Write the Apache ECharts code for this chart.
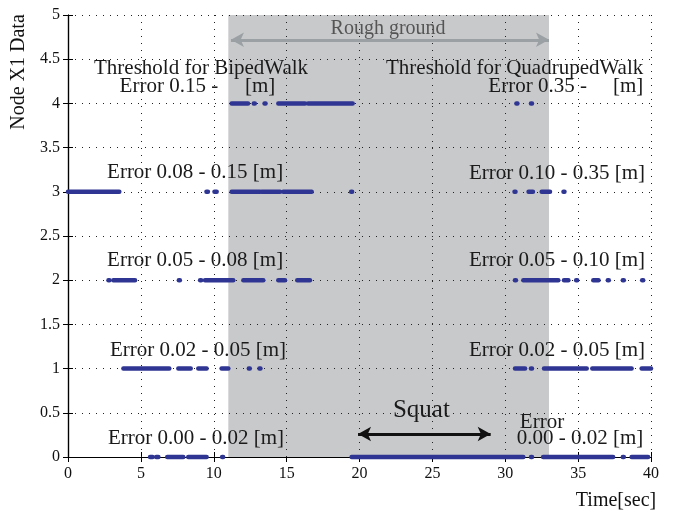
<!DOCTYPE html>
<html>
<head>
<meta charset="utf-8">
<script src="https://cdn.jsdelivr.net/npm/echarts@6/dist/echarts.min.js"></script>
<style>
  html, body { margin: 0; padding: 0; background: #fff; }
  #main { width: 674px; height: 512px; }
</style>
</head>
<body>
<div id="main"></div>
<script>
// runs of samples at each node value: [start, end] in seconds (start == end is a single dot)
const runsY0 = [[5.63, 5.8], [6.05, 6.2], [6.81, 7.91], [8.25, 9.51], [10.61, 10.61], [19.46, 31.24], [31.8, 31.8], [32.6, 37.4], [38.1, 38.1], [38.67, 39.8]];
const runsY1 = [[3.8, 6.95], [7.57, 8.42], [8.94, 9.51], [10.54, 11.0], [12.44, 12.44], [13.17, 13.17], [30.67, 31.36], [31.8, 31.8], [32.66, 35.59], [35.97, 38.67], [39.36, 40]];
const runsY2 = [[2.81, 2.81], [3.11, 4.6], [7.64, 7.64], [9.1, 9.1], [9.4, 11.34], [12.03, 13.4], [14.43, 14.89], [15.73, 16.6], [30.7, 30.7], [31.24, 33.64], [34.03, 34.33], [34.9, 34.9], [36.04, 36.4], [37.07, 37.07], [38.1, 38.1], [39.43, 39.43]];
const runsY3 = [[0, 3.52], [9.5, 9.6], [10.05, 10.2], [11.23, 13.17], [13.29, 14.55], [14.77, 16.72], [19.46, 19.46], [30.67, 30.67], [31.6, 31.9], [32.5, 33.07], [34.03, 34.03]];
const runsY4 = [[11.23, 12.35], [12.78, 12.78], [13.52, 13.52], [14.43, 16.26], [16.47, 19.53], [30.8, 30.8], [31.8, 31.8]];
const levels = [0, 1, 2, 3, 4];

const roughGround = [11, 33];
const squat = [19.9, 29.0];

const annotations = [
  { x: 9.13, y: 4.40, text: 'Threshold for BipedWalk', align: 'center' },
  { x: 10.3, y: 4.19, text: 'Error 0.15 -', align: 'right' },
  { x: 12.14, y: 4.19, text: '[m]', align: 'left' },
  { x: 39.47, y: 4.40, text: 'Threshold for QuadrupedWalk', align: 'right' },
  { x: 35.6, y: 4.19, text: 'Error 0.35 -', align: 'right' },
  { x: 39.47, y: 4.19, text: '[m]', align: 'right' },
  { x: 2.68, y: 3.22, text: 'Error 0.08 - 0.15 [m]', align: 'left' },
  { x: 39.59, y: 3.21, text: 'Error 0.10 - 0.35 [m]', align: 'right' },
  { x: 2.68, y: 2.22, text: 'Error 0.05 - 0.08 [m]', align: 'left' },
  { x: 39.59, y: 2.22, text: 'Error 0.05 - 0.10 [m]', align: 'right' },
  { x: 2.88, y: 1.20, text: 'Error 0.02 - 0.05 [m]', align: 'left' },
  { x: 39.59, y: 1.20, text: 'Error 0.02 - 0.05 [m]', align: 'right' },
  { x: 2.74, y: 0.215, text: 'Error 0.00 - 0.02 [m]', align: 'left' },
  { x: 31.0, y: 0.385, text: 'Error', align: 'left' },
  { x: 39.47, y: 0.215, text: '0.00 - 0.02 [m]', align: 'right' },
  { x: 24.25, y: 0.53, text: 'Squat', align: 'center', size: 25 },
  { x: 21.96, y: 4.85, text: 'Rough ground', align: 'center', color: '#555', size: 20 }
];

const serif = '"Liberation Serif", "DejaVu Serif", serif';
const dotBlue = '#2e3592';

// flatten runs into [start, end, level]
const runData = [];
[runsY0, runsY1, runsY2, runsY3, runsY4].forEach((runs, i) => {
  runs.forEach(r => runData.push([r[0], r[1], levels[i]]));
});

const chart = echarts.init(document.getElementById('main'));

const gridLine = { show: true, lineStyle: { color: '#222', width: 1, type: [1, 6] } };
const frameLine = { show: true, lineStyle: { color: '#000', width: 1.2 } };
const inTick = { show: true, inside: true, length: 5, lineStyle: { color: '#000' } };

const option = {
  animation: false,
  grid: { left: 68, right: 23, top: 15, bottom: 55 },
  xAxis: [
    {
      type: 'value', min: 0, max: 40, interval: 5, position: 'bottom',
      axisLine: frameLine, axisTick: inTick, splitLine: { show: false },
      axisLabel: { color: '#111', fontFamily: serif, fontSize: 16, margin: 9 }
    },
    {
      type: 'value', min: 0, max: 40, interval: 5, position: 'top', z: 3,
      axisLine: frameLine, axisTick: inTick, splitLine: gridLine,
      axisLabel: { show: false }
    }
  ],
  yAxis: [
    {
      type: 'value', min: 0, max: 5, interval: 0.5, position: 'left',
      axisLine: frameLine, axisTick: inTick, splitLine: { show: false },
      axisLabel: { color: '#111', fontFamily: serif, fontSize: 16, margin: 8 }
    },
    {
      type: 'value', min: 0, max: 5, interval: 0.5, position: 'right', z: 3,
      axisLine: frameLine, axisTick: inTick, splitLine: gridLine,
      axisLabel: { show: false }
    }
  ],
  series: [
    {
      // shaded rough ground region
      type: 'scatter', data: [], z: 1, silent: true,
      markArea: {
        silent: true,
        itemStyle: { color: '#c8c9cb' },
        data: [[{ xAxis: roughGround[0] }, { xAxis: roughGround[1] }]]
      }
    },
    {
      type: 'scatter', data: [], z: 4, silent: true,
      markLine: {
        silent: true,
        symbol: ['arrow', 'arrow'],
        symbolSize: [11, 13],
        label: { show: false },
        data: [
          [{ coord: [roughGround[0] + 0.18, 4.72], lineStyle: { color: '#9aa0a3', width: 3, type: 'solid' } },
           { coord: [roughGround[1], 4.72] }],
          [{ coord: [squat[0], 0.26], lineStyle: { color: '#111', width: 3, type: 'solid' } },
           { coord: [squat[1], 0.26] }]
        ]
      }
    },
    {
      type: 'custom', z: 5, silent: true,
      data: runData,
      renderItem: function (params, api) {
        const y = api.value(2);
        const a = api.coord([api.value(0), y]);
        const b = api.coord([api.value(1), y]);
        let x1 = a[0], x2 = b[0];
        if (x2 - x1 < 1) { x1 -= 0.5; x2 += 0.5; }
        return {
          type: 'line',
          shape: { x1: x1, y1: a[1], x2: x2, y2: b[1] },
          style: { stroke: dotBlue, lineWidth: 4.5, lineCap: 'round' }
        };
      }
    }
  ]
};
chart.setOption(option);

// text annotations placed at data coordinates
const graphics = annotations.map(a => {
  const p = chart.convertToPixel({ xAxisIndex: 0, yAxisIndex: 0 }, [a.x, a.y]);
  return {
    type: 'text', x: p[0], y: p[1], z: 10, silent: true,
    style: {
      text: a.text, fill: a.color || '#1a1a1a', font: (a.size || 21) + 'px ' + serif,
      align: a.align, verticalAlign: 'middle'
    }
  };
});
// axis titles
graphics.push({
  type: 'text', x: 616, y: 501, z: 10,
  style: { text: 'Time[sec]', fill: '#111', font: '20px ' + serif, align: 'center', verticalAlign: 'middle' }
});
graphics.push({
  type: 'text', x: 19, y: 72, rotation: Math.PI / 2, z: 10,
  style: { text: 'Node X1 Data', fill: '#111', font: '20px ' + serif, align: 'center', verticalAlign: 'middle' }
});
chart.setOption({ graphic: graphics });

window.addEventListener('resize', function () {
  chart.resize();
});
</script>
</body>
</html>
